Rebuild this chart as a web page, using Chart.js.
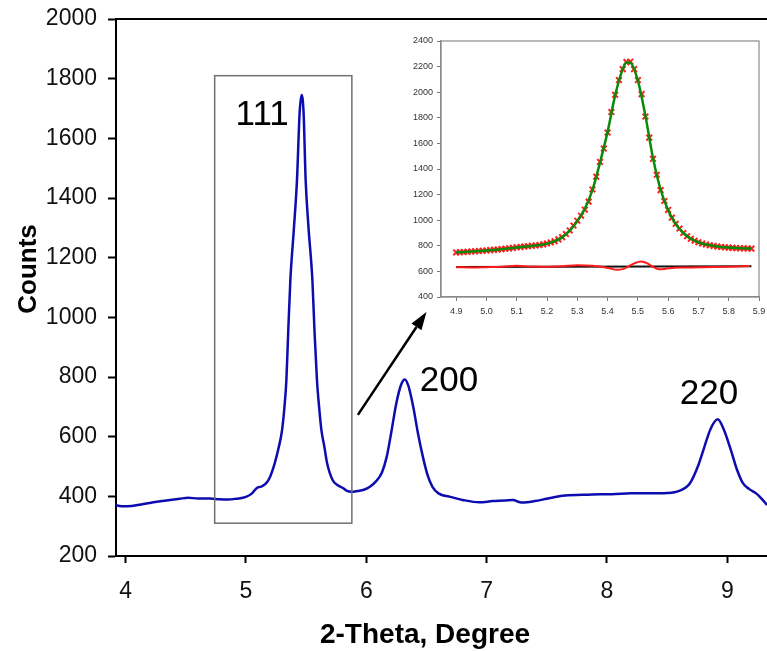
<!DOCTYPE html>
<html><head><meta charset="utf-8">
<script src="https://cdn.jsdelivr.net/npm/chart.js@4"></script>
<style>
html,body{margin:0;padding:0;background:#fff;}
#wrap{position:relative;width:767px;height:651px;overflow:hidden;background:#fff;}
#main{position:absolute;left:0;top:0;}
#inset{position:absolute;left:395px;top:30px;}
</style></head><body>
<div id="wrap">
<canvas id="main" width="767" height="651"></canvas>
<canvas id="inset" width="372" height="295"></canvas>
</div>
<script>
// ---------- main pattern ----------
const mainTheta = [3.92,3.98,4.05,4.12,4.2,4.3,4.37,4.45,4.52,4.6,4.7,4.78,4.85,4.92,5.0,5.05,5.09,5.13,5.17,5.2,5.24,5.27,5.3,5.32,5.336,5.352,5.369,5.397,5.424,5.446,5.462,5.479,5.496,5.52,5.552,5.57,5.59,5.61,5.627,5.65,5.674,5.72,5.76,5.806,5.84,5.876,5.93,5.98,6.03,6.08,6.13,6.17,6.21,6.25,6.29,6.32,6.35,6.39,6.43,6.47,6.51,6.55,6.6,6.69,6.8,6.94,7.05,7.15,7.22,7.27,7.3,7.4,7.5,7.63,7.8,7.95,8.04,8.2,8.35,8.5,8.6,8.69,8.76,8.81,8.86,8.92,8.97,9.03,9.08,9.13,9.18,9.24,9.29,9.33];
const mainCounts = [370,367,368,372,378,384,388,392,395,393,393,390,389,392,398,410,428,433,445,465,512,560,622,700,790,960,1125,1290,1460,1685,1745,1685,1460,1300,1125,950,790,690,622,570,512,455,438,428,418,415,418,422,432,450,480,533,620,713,775,792,770,700,610,533,470,432,410,399,388,380,384,386,388,381,379,384,392,402,405,407,407,410,410,411,418,444,505,566,625,658,625,555,490,444,425,410,390,371];
const mainXTicks = [4,5,6,7,8,9];
const mainYTicks = [200,400,600,800,1000,1200,1400,1600,1800,2000];
const peakLabels = ['111','200','220'];
const xTitle = '2-Theta, Degree';
const yTitle = 'Counts';

// ---------- inset (111 peak fit) ----------
const obsTheta = [4.9,4.9125,4.925,4.9375,4.95,4.9625,4.975,4.9875,5.0,5.0125,5.025,5.0375,5.05,5.0625,5.075,5.0875,5.1,5.1125,5.125,5.1375,5.15,5.1625,5.175,5.1875,5.2,5.2125,5.225,5.2375,5.25,5.2625,5.275,5.2875,5.3,5.3125,5.325,5.3375,5.35,5.3625,5.375,5.3875,5.4,5.4125,5.425,5.4375,5.45,5.4625,5.475,5.4875,5.5,5.5125,5.525,5.5375,5.55,5.5625,5.575,5.5875,5.6,5.6125,5.625,5.6375,5.65,5.6625,5.675,5.6875,5.7,5.7125,5.725,5.7375,5.75,5.7625,5.775,5.7875,5.8,5.8125,5.825,5.8375,5.85,5.8625,5.875];
const obsCounts = [748,750,751,753,755,757,759,761,763,766,768,771,774,777,780,784,788,791,794,797,800,803,806,811,818,826,836,850,868,892,920,958,996,1035,1082,1145,1240,1340,1455,1560,1685,1845,1980,2095,2180,2235,2238,2180,2095,1985,1810,1645,1480,1355,1235,1150,1080,1020,972,935,900,875,855,840,828,818,810,804,799,795,791,788,786,784,782,781,780,779,778];
const fitTheta = [4.9,4.925,4.95,4.975,5.0,5.025,5.05,5.075,5.1,5.125,5.15,5.175,5.2,5.225,5.25,5.275,5.3,5.325,5.35,5.375,5.4,5.425,5.45,5.4625,5.475,5.5,5.525,5.55,5.575,5.6,5.625,5.65,5.675,5.7,5.725,5.75,5.775,5.8,5.825,5.85,5.875];
const fitCounts = [748,751,755,759,763,768,774,780,787,793,799,806,817,836,866,918,993,1090,1235,1450,1690,1975,2180,2232,2230,2090,1815,1485,1240,1078,970,900,855,828,810,799,791,786,782,780,778];
const diffTheta = [4.9,4.95,5.0,5.05,5.1,5.15,5.2,5.25,5.3,5.35,5.38,5.41,5.43,5.45,5.47,5.49,5.51,5.53,5.55,5.57,5.59,5.62,5.65,5.7,5.75,5.8,5.87];
const diffCounts = [632,631,633,636,644,638,637,640,648,644,636,622,612,618,640,665,678,665,635,617,620,628,630,632,634,637,642];
const baseTheta = [4.9,5.875];
const baseCounts = [634,640];
const insetXTicks = [4.9,5.0,5.1,5.2,5.3,5.4,5.5,5.6,5.7,5.8,5.9];
const insetYTicks = [400,600,800,1000,1200,1400,1600,1800,2000,2200,2400];

const pts = (xs, ys) => xs.map((x, i) => ({x: x, y: ys[i]}));
const FONT = "'Liberation Sans', Arial, sans-serif";

// annotation placement (data coordinates)
const annot = {
  box: {x0: 4.74, x1: 5.88, y0: 310, y1: 1810},
  arrow: {x0: 5.93, y0: 673, x1: 6.50, y1: 1018},
  labels: [{x: 4.914, y: 1645}, {x: 6.444, y: 754}, {x: 8.605, y: 709}]
};

const mainDeco = {
  id: 'mainDeco',
  afterDraw(chart) {
    const ctx = chart.ctx, xs = chart.scales.x, ys = chart.scales.y, ca = chart.chartArea;
    ctx.save();
    ctx.strokeStyle = '#000'; ctx.lineWidth = 2;
    ctx.beginPath(); ctx.moveTo(ca.left - 1, ca.top); ctx.lineTo(ca.right, ca.top); ctx.stroke();
    const b = annot.box;
    ctx.strokeStyle = '#707070'; ctx.lineWidth = 1.5;
    const bx0 = xs.getPixelForValue(b.x0), bx1 = xs.getPixelForValue(b.x1);
    const by0 = ys.getPixelForValue(b.y0), by1 = ys.getPixelForValue(b.y1);
    ctx.strokeRect(bx0, by1, bx1 - bx0, by0 - by1);
    const a = annot.arrow;
    const ax0 = xs.getPixelForValue(a.x0), ay0 = ys.getPixelForValue(a.y0);
    const ax1 = xs.getPixelForValue(a.x1), ay1 = ys.getPixelForValue(a.y1);
    const ang = Math.atan2(ay1 - ay0, ax1 - ax0);
    const hl = 18, hw = 6;
    ctx.strokeStyle = '#000'; ctx.fillStyle = '#000'; ctx.lineWidth = 2.5;
    ctx.beginPath(); ctx.moveTo(ax0, ay0);
    ctx.lineTo(ax1 - hl * Math.cos(ang), ay1 - hl * Math.sin(ang)); ctx.stroke();
    ctx.beginPath();
    ctx.moveTo(ax1, ay1);
    ctx.lineTo(ax1 - hl * Math.cos(ang) + hw * Math.sin(ang), ay1 - hl * Math.sin(ang) - hw * Math.cos(ang));
    ctx.lineTo(ax1 - hl * Math.cos(ang) - hw * Math.sin(ang), ay1 - hl * Math.sin(ang) + hw * Math.cos(ang));
    ctx.closePath(); ctx.fill();
    ctx.fillStyle = '#000'; ctx.font = '35px ' + FONT; ctx.textAlign = 'left'; ctx.textBaseline = 'alphabetic';
    peakLabels.forEach((t, i) => {
      const p = annot.labels[i];
      ctx.fillText(t, xs.getPixelForValue(p.x), ys.getPixelForValue(p.y));
    });
    ctx.font = 'bold 28px ' + FONT; ctx.textAlign = 'center';
    ctx.fillText(xTitle, 425, 643);
    ctx.translate(36, 269); ctx.rotate(-Math.PI / 2);
    ctx.font = 'bold 26px ' + FONT;
    ctx.fillText(yTitle, 0, 0);
    ctx.restore();
  }
};

new Chart(document.getElementById('main'), {
  type: 'line',
  data: { datasets: [{
    data: pts(mainTheta, mainCounts),
    borderColor: '#0c0cb0', borderWidth: 2.5, pointRadius: 0,
    cubicInterpolationMode: 'monotone', fill: false
  }]},
  options: {
    responsive: false, animation: false, devicePixelRatio: 1,
    layout: { padding: { top: 19, left: 0, right: 0, bottom: 0 } },
    plugins: { legend: { display: false }, tooltip: { enabled: false } },
    scales: {
      x: {
        type: 'linear', min: 3.92, max: 9.33,
        afterBuildTicks: s => { s.ticks = mainXTicks.map(v => ({value: v})); },
        afterFit: s => { s.height = 95; s.paddingLeft = 0; s.paddingRight = 0; },
        grid: { display: true, drawOnChartArea: false, drawTicks: true, tickLength: 7, tickColor: '#000', tickWidth: 2 },
        border: { display: true, color: '#000', width: 2 },
        ticks: { font: { family: FONT, size: 23 }, color: '#111', padding: 15, maxRotation: 0, autoSkip: false, callback: v => String(v) }
      },
      y: {
        type: 'linear', min: 200, max: 2000,
        afterBuildTicks: s => { s.ticks = mainYTicks.map(v => ({value: v})); },
        afterFit: s => { s.width = 116; s.paddingTop = 0; s.paddingBottom = 0; },
        grid: { display: true, drawOnChartArea: false, drawTicks: true, tickLength: 8, tickColor: '#000', tickWidth: 2 },
        border: { display: true, color: '#000', width: 2 },
        ticks: { font: { family: FONT, size: 23 }, color: '#111', padding: 11, autoSkip: false, callback: v => String(v) }
      }
    }
  },
  plugins: [mainDeco]
});

const insetFrame = {
  id: 'insetFrame',
  afterDraw(chart) {
    const ctx = chart.ctx, ca = chart.chartArea;
    ctx.save();
    ctx.strokeStyle = '#8a8a8a'; ctx.lineWidth = 1.2;
    ctx.strokeRect(ca.left, ca.top, ca.right - ca.left, ca.bottom - ca.top);
    ctx.restore();
  }
};

new Chart(document.getElementById('inset'), {
  type: 'line',
  data: { datasets: [
    { data: pts(fitTheta, fitCounts), borderColor: '#0a8a0a', borderWidth: 2.5, pointRadius: 0, cubicInterpolationMode: 'monotone', order: 1 },
    { data: pts(obsTheta, obsCounts), showLine: false, pointStyle: 'crossRot', pointRadius: 4, pointBorderWidth: 2, pointBorderColor: '#ff2020', borderColor: '#ff2020', order: 2 },
    { data: pts(diffTheta, diffCounts), borderColor: '#ff1a1a', borderWidth: 2, pointRadius: 0, cubicInterpolationMode: 'monotone', order: 3 },
    { data: pts(baseTheta, baseCounts), borderColor: '#111', borderWidth: 2, pointRadius: 0, order: 4 }
  ]},
  options: {
    responsive: false, animation: false, devicePixelRatio: 1,
    layout: { padding: { top: 11, left: 0, right: 8, bottom: 0 } },
    plugins: { legend: { display: false }, tooltip: { enabled: false } },
    scales: {
      x: {
        type: 'linear', min: 4.85, max: 5.9,
        afterBuildTicks: s => { s.ticks = insetXTicks.map(v => ({value: v})); },
        afterFit: s => { s.height = 28; s.paddingLeft = 0; s.paddingRight = 0; },
        grid: { display: true, drawOnChartArea: false, tickLength: 4, tickColor: '#777', tickWidth: 1 },
        border: { display: true, color: '#8a8a8a', width: 1.2 },
        ticks: { font: { family: FONT, size: 9 }, color: '#333', padding: 5, maxRotation: 0, autoSkip: false, callback: v => Number(v).toFixed(1) }
      },
      y: {
        type: 'linear', min: 400, max: 2400,
        afterBuildTicks: s => { s.ticks = insetYTicks.map(v => ({value: v})); },
        afterFit: s => { s.width = 46; s.paddingTop = 0; s.paddingBottom = 0; },
        grid: { display: true, drawOnChartArea: false, tickLength: 4, tickColor: '#777', tickWidth: 1 },
        border: { display: true, color: '#8a8a8a', width: 1.2 },
        ticks: { font: { family: FONT, size: 9 }, color: '#333', padding: 4, autoSkip: false, callback: v => String(v) }
      }
    }
  },
  plugins: [insetFrame]
});
</script>
</body></html>
